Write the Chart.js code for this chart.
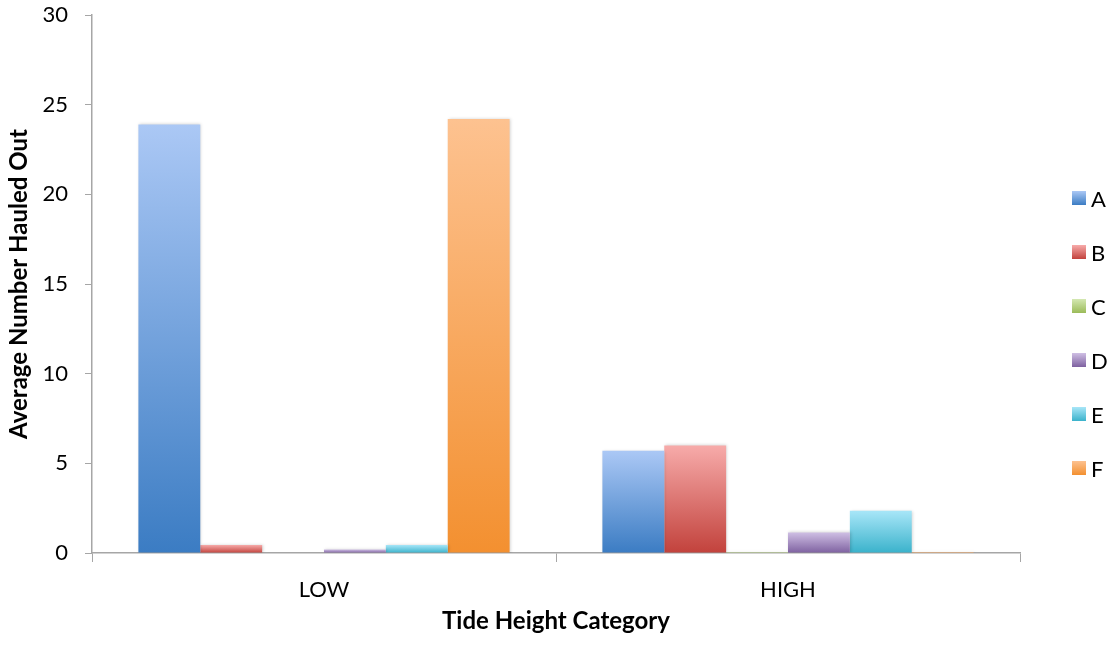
<!DOCTYPE html>
<html>
<head>
<meta charset="utf-8">
<script src="https://cdn.jsdelivr.net/npm/chart.js@4/dist/chart.umd.min.js"></script>
<style>
  html, body { margin: 0; padding: 0; background: #fff; }
  #wrap { width: 1115px; height: 646px; }
</style>
</head>
<body>
<div id="wrap"><canvas id="grafico" width="1115" height="646"></canvas></div>
<script>
// categorias y valores por serie
const categorias = ['LOW', 'HIGH'];
const series = ['A', 'B', 'C', 'D', 'E', 'F'];
const valoresA = [23.9, 5.7];
const valoresB = [0.45, 6.0];
const valoresC = [0.0, 0.05];
const valoresD = [0.2, 1.15];
const valoresE = [0.45, 2.35];
const valoresF = [24.2, 0.05];
const ticksY = [0, 5, 10, 15, 20, 25, 30];

// colores claro (arriba) / oscuro (abajo) para el degradado
const colores = [
    ['#abc8f5', '#3b7cc3'],
    ['#f7abaa', '#c2423c'],
    ['#d4e8b2', '#9bbb59'],
    ['#cfbfe4', '#7e61a0'],
    ['#a8e6f8', '#3ab2cb'],
    ['#fdc290', '#f39030']
];
const todos = [valoresA, valoresB, valoresC, valoresD, valoresE, valoresF];

const fuente = 'Lato, "Open Sans", sans-serif';
const gris = '#a6a6a6';

function degradado(ctx, i) {
    const chart = ctx.chart;
    const y = chart.scales.y;
    if (!y || ctx.raw === undefined) return colores[i][1];
    const top = y.getPixelForValue(ctx.raw);
    const base = y.getPixelForValue(0);
    if (!isFinite(top) || !isFinite(base)) return colores[i][1];
    const g = chart.ctx.createLinearGradient(0, top, 0, Math.max(base, top + 1));
    g.addColorStop(0, colores[i][0]);
    g.addColorStop(1, colores[i][1]);
    return g;
}

// leyenda a la derecha, cuadrito con degradado + letra
const leyenda = {
    id: 'leyenda',
    afterDraw(chart) {
        const c = chart.ctx;
        c.save();
        c.font = '22px ' + fuente;
        c.textBaseline = 'middle';
        c.textAlign = 'left';
        series.forEach((s, i) => {
            const yc = 198 + i * 54;
            const g = c.createLinearGradient(0, yc - 7, 0, yc + 7);
            g.addColorStop(0, colores[i][0]);
            g.addColorStop(1, colores[i][1]);
            c.fillStyle = g;
            c.fillRect(1072, yc - 7, 14, 14);
            c.fillStyle = '#000';
            c.fillText(s, 1091, yc + 2);
        });
        c.restore();
    }
};

const sombra = {
    id: 'sombra',
    beforeDatasetsDraw(chart) {
        const c = chart.ctx;
        c.save();
        c.shadowColor = 'rgba(0,0,0,0.18)';
        c.shadowBlur = 3;
        c.shadowOffsetX = 1;
        c.shadowOffsetY = 0;
    },
    afterDatasetsDraw(chart) {
        chart.ctx.restore();
    }
};

const ctx = document.getElementById('grafico').getContext('2d');
new Chart(ctx, {
    type: 'bar',
    data: {
        labels: categorias,
        datasets: series.map((s, i) => ({
            label: s,
            data: todos[i],
            backgroundColor: (c) => degradado(c, i),
            borderWidth: 0,
            barPercentage: 1.0,
            categoryPercentage: 0.8
        }))
    },
    options: {
        responsive: false,
        animation: false,
        layout: { padding: { top: 15, right: 95, left: 0, bottom: 0 } },
        plugins: {
            legend: { display: false },
            tooltip: { enabled: false }
        },
        scales: {
            x: {
                grid: {
                    display: true,
                    offset: true,
                    drawOnChartArea: false,
                    drawTicks: true,
                    tickLength: 9,
                    color: gris
                },
                border: { display: true, color: gris, width: 1.5 },
                ticks: { color: '#000', font: { family: fuente, size: 22 }, padding: 15 },
                title: {
                    display: true,
                    text: 'Tide Height Category',
                    color: '#000',
                    font: { family: fuente, size: 24, weight: 'bold' },
                    padding: { top: 0, bottom: 10 }
                },
                afterFit(scale) {
                    scale.height = 93;
                    scale.paddingLeft = 0;
                    scale.paddingRight = 0;
                }
            },
            y: {
                min: 0,
                max: 30,
                afterBuildTicks(scale) { scale.ticks = ticksY.map(v => ({ value: v })); },
                grid: {
                    display: true,
                    drawOnChartArea: false,
                    drawTicks: true,
                    tickLength: 7,
                    color: gris
                },
                border: { display: true, color: gris, width: 1.5 },
                ticks: { color: '#000', font: { family: fuente, size: 22 }, padding: 17 },
                title: {
                    display: true,
                    text: 'Average Number Hauled Out',
                    color: '#000',
                    font: { family: fuente, size: 24, weight: 'bold' },
                    padding: { top: 5, bottom: 0 }
                },
                afterFit(scale) {
                    scale.width = 92;
                    scale.paddingTop = 0;
                    scale.paddingBottom = 0;
                }
            }
        }
    },
    plugins: [sombra, leyenda]
});
</script>
</body>
</html>
